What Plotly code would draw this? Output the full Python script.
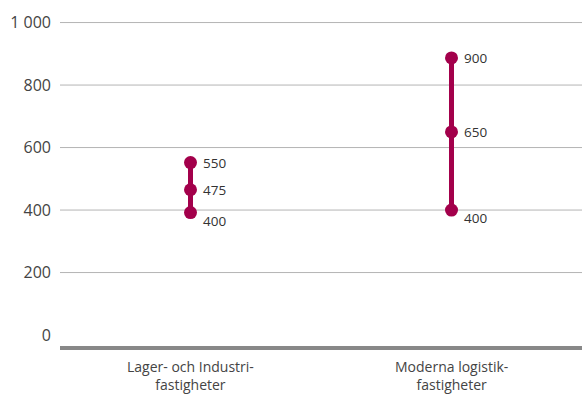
import plotly.graph_objects as go

categories = ["Lager- och Industri-<br>fastigheter", "Moderna logistik-<br>fastigheter"]
low_vals = [392, 400]
mid_vals = [465, 650]
high_vals = [552, 887]
low_labels = ["400", "400"]
mid_labels = ["475", "650"]
high_labels = ["550", "900"]
tick_vals = [0, 200, 400, 600, 800, 1000]
tick_text = ["0", "200", "400", "600", "800", "1 000"]

color = "#A3004B"
fnt = "Open Sans, sans-serif"
fig = go.Figure()
for i, c in enumerate(categories):
    fig.add_trace(go.Scatter(
        x=[c, c, c], y=[low_vals[i], mid_vals[i], high_vals[i]],
        mode="lines+markers",
        line=dict(color=color, width=5),
        marker=dict(color=color, size=13),
        showlegend=False, hoverinfo="skip"))
    for v, lab, ys in [(high_vals[i], high_labels[i], 0), (mid_vals[i], mid_labels[i], 0), (low_vals[i], low_labels[i], -8)]:
        fig.add_annotation(x=c, y=v, text=lab, showarrow=False, xanchor="left",
                           xshift=10, yshift=ys, font=dict(family=fnt, size=13.5, color="#333333"))
    # category label
    fig.add_annotation(x=c, y=0, yref="paper", text=c, showarrow=False,
                       xanchor="center", yanchor="top", yshift=-10, borderpad=0,
                       font=dict(family=fnt, size=14, color="#444444"))

for t in tick_vals:
    if t != 0:
        fig.add_shape(type="line", xref="paper", x0=0, x1=1, yref="y", y0=t, y1=t,
                      line=dict(color="#b4b4b4", width=1), layer="below")

fig.update_layout(
    width=582, height=394,
    margin=dict(l=60, r=0, t=21, b=48),
    plot_bgcolor="white", paper_bgcolor="white",
    font=dict(family=fnt, size=16, color="#444444"),
    xaxis=dict(type="category", categoryorder="array", categoryarray=categories,
               range=[-0.5, 1.5], showgrid=False, showline=True, linecolor="#888888",
               linewidth=4, ticks="", showticklabels=False, automargin=False),
    yaxis=dict(range=[-35, 1005], tickvals=tick_vals, ticktext=tick_text,
               showgrid=False, zeroline=False, automargin=False,
               showline=False, ticks="", tickfont=dict(family=fnt, size=16, color="#444444"),
               ticklabelstandoff=8),
)
fig.write_html("out.html")
